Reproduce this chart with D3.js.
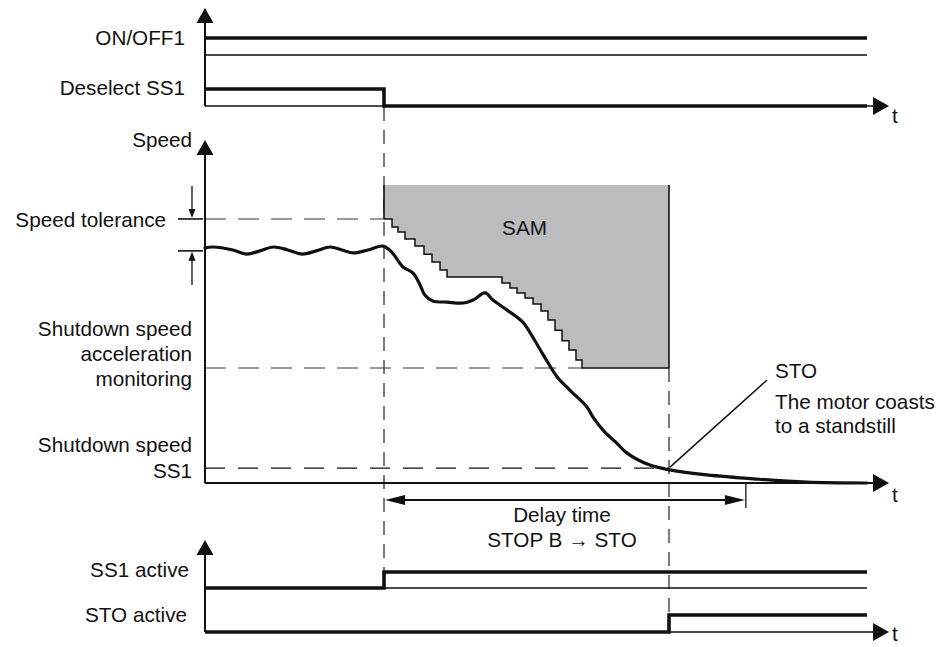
<!DOCTYPE html>
<html><head><meta charset="utf-8">
<script src="https://cdn.jsdelivr.net/npm/d3@7"></script>
<style>
body{margin:0;background:#fff}
svg{display:block;background:#fff}
text{font-family:"Liberation Sans",Arial,Helvetica,sans-serif;font-size:20.7px;fill:#111}
</style>
</head><body>
<svg id="c" width="941" height="647"></svg>
<script>
// ---------------- data ----------------
const timeDomain = [0, 100];
const speedDomain = [0, 100];

const tDeselect = 27.04;   // SS1 deselected
const tSTO = 70.09;        // STO triggered
const tDelayEnd = 81.7;    // end of delay time STOP B -> STO

// binary signals: [time, level]
const onOff1      = [[0, 1], [100, 1]];
const deselectSS1 = [[0, 1], [27.04, 0], [100, 0]];
const ss1Active   = [[0, 0], [27.04, 1], [100, 1]];
const stoActive   = [[0, 0], [70.09, 1], [100, 1]];

// speed thresholds
const samTop = 100;
const speedTolerance = 88.6;
const nominalSpeed = 77.9;
const shutdownAccel = 38.6;
const shutdownSS1 = 5.0;

// actual speed curve
const speedT = [0, 1.2, 4.2, 6.3, 8.3, 10.3, 12.5, 14.7, 16.8, 18.9, 20.7, 22.4, 24.6, 26.9,
  28.2, 29.9, 31.4, 32.5, 33.2, 34.4, 36.6, 39.0, 40.5, 42.3, 43.5, 45.6, 48.0, 49.5, 51.1,
  53.2, 55.1, 57.7, 58.6, 60.4, 62.2, 63.7, 67.2, 70.2, 75.8, 83.4, 90.9, 100];
const speedV = [78.9, 79.2, 78.2, 76.8, 77.9, 79.2, 78.2, 76.8, 77.9, 79.2, 78.2, 77.2, 78.2, 79.5,
  77.5, 72.5, 70.5, 66.4, 63.1, 61.1, 60.7, 60.4, 61.4, 63.8, 61.4, 58.1, 54.0, 49.0, 43.0,
  35.6, 31.2, 25.5, 22.1, 17.1, 13.4, 10.1, 6.0, 4.4, 2.7, 1.3, 0.3, 0];

// SAM limit staircase
const samStepT = [27.04, 28.25, 29.15, 30.21, 31.72, 33.08, 34.29, 35.50, 36.56, 44.86, 46.07,
  47.13, 48.34, 49.55, 50.76, 51.81, 52.87, 53.93, 54.98, 56.04, 56.95, 70.09];
const samStepV = [88.6, 85.9, 84.2, 81.9, 79.5, 76.8, 74.2, 71.5, 69.1, 67.1, 65.4,
  63.8, 62.1, 60.1, 57.7, 54.7, 51.3, 47.7, 44.6, 41.3, 38.6, 38.6];

// ---------------- drawing ----------------
const svg = d3.select("#c");
const x = d3.scaleLinear().domain(timeDomain).range([205, 867]);
const ySpeed = d3.scaleLinear().domain(speedDomain).range([483, 185]);

const rows = {
  onOff1:   d3.scaleLinear().domain([0, 1]).range([55, 38]),
  deselect: d3.scaleLinear().domain([0, 1]).range([106, 89]),
  ss1:      d3.scaleLinear().domain([0, 1]).range([588, 572]),
  sto:      d3.scaleLinear().domain([0, 1]).range([632, 615])
};

const axisX0 = x(0), axisX1 = x(100);
const DARK = "#111";
const GRAY = "#7a7a7a";

function hline(y, x0, x1, opts) {
  svg.append("line").attr("x1", x0).attr("x2", x1).attr("y1", y).attr("y2", y)
    .attr("stroke", opts.color || DARK).attr("stroke-width", opts.w || 1.5)
    .attr("stroke-dasharray", opts.dash || null);
}
function vline(xp, y0, y1, opts) {
  svg.append("line").attr("x1", xp).attr("x2", xp).attr("y1", y0).attr("y2", y1)
    .attr("stroke", opts.color || DARK).attr("stroke-width", opts.w || 1.5)
    .attr("stroke-dasharray", opts.dash || null);
}
function upArrow(xp, yTip) {
  svg.append("path").attr("d", `M${xp},${yTip} L${xp - 8.5},${yTip + 15} L${xp + 8.5},${yTip + 15} Z`).attr("fill", DARK);
}
function rightArrow(xTip, y) {
  svg.append("path").attr("d", `M${xTip},${y} L${xTip - 16},${y - 9} L${xTip - 16},${y + 9} Z`).attr("fill", DARK);
}

// ---- dashed reference lines (speed panel)
hline(ySpeed(speedTolerance), axisX0, x(tDeselect), {color: GRAY, w: 1.6, dash: "21,12"});
hline(ySpeed(shutdownAccel), axisX0, x(samStepT[samStepT.length - 2]), {color: GRAY, w: 1.6, dash: "21,12"});
hline(ySpeed(shutdownSS1), axisX0, x(tSTO), {color: DARK, w: 1.2, dash: "20,13"});

// ---- vertical event dashed lines
vline(x(tDeselect), rows.deselect(0) + 1, rows.ss1(1), {color: "#333", w: 1.3, dash: "14,9"});
vline(x(tSTO), ySpeed(shutdownAccel), rows.sto(1), {color: "#333", w: 1.3, dash: "14,9"});

// ---- SAM region
const samPts = samStepT.map((t, i) => [t, samStepV[i]]);
svg.append("path").datum(samPts)
  .attr("d", d3.area().x(d => x(d[0])).y0(ySpeed(samTop)).y1(d => ySpeed(d[1])).curve(d3.curveStepAfter))
  .attr("fill", "#babcbe");
svg.append("path").datum(samPts)
  .attr("d", d3.line().x(d => x(d[0])).y(d => ySpeed(d[1])).curve(d3.curveStepAfter))
  .attr("fill", "none").attr("stroke", DARK).attr("stroke-width", 1.5);
vline(x(tDeselect), ySpeed(samTop), ySpeed(speedTolerance), {w: 1.6});
vline(x(tSTO), ySpeed(samTop), ySpeed(shutdownAccel), {w: 1.6});
svg.append("text").attr("x", (x(tDeselect) + x(tSTO)) / 2 - 2).attr("y", 235)
  .attr("text-anchor", "middle").text("SAM");

// ---- axes
// top panel
vline(axisX0, rows.deselect(0), 22, {w: 2});
upArrow(axisX0, 8);
hline(rows.deselect(0), axisX0, 874, {w: 1.5});
rightArrow(889, rows.deselect(0));
svg.append("text").attr("x", 892).attr("y", 123).text("t");
// thin reference line for ON/OFF1
hline(rows.onOff1(0), axisX0, axisX1, {w: 1.3});

// speed panel
vline(axisX0, ySpeed(0), 154, {w: 2});
upArrow(axisX0, 140);
hline(ySpeed(0), axisX0, 874, {w: 2});
rightArrow(889, ySpeed(0));
svg.append("text").attr("x", 892).attr("y", 502).text("t");

// bottom panel
vline(axisX0, rows.sto(0), 554, {w: 2});
upArrow(axisX0, 540);
hline(rows.sto(0), axisX0, 874, {w: 1.5});
rightArrow(889, rows.sto(0));
svg.append("text").attr("x", 892).attr("y", 641).text("t");
hline(rows.ss1(0), x(tDeselect), axisX1, {w: 1.3});

// ---- signals
function signal(data, yS) {
  svg.append("path").datum(data)
    .attr("d", d3.line().x(d => x(d[0])).y(d => yS(d[1])).curve(d3.curveStepAfter))
    .attr("fill", "none").attr("stroke", DARK).attr("stroke-width", 3.6)
    .attr("stroke-linejoin", "miter");
}
signal(onOff1, rows.onOff1);
signal(deselectSS1, rows.deselect);
signal(ss1Active, rows.ss1);
signal(stoActive, rows.sto);

// ---- speed curve
const speedPts = speedT.map((t, i) => [t, speedV[i]]);
svg.append("path").datum(speedPts)
  .attr("d", d3.line().x(d => x(d[0])).y(d => ySpeed(d[1])).curve(d3.curveCatmullRom))
  .attr("fill", "none").attr("stroke", DARK).attr("stroke-width", 3.2)
  .attr("stroke-linecap", "round");

// ---- speed tolerance marker
const yTol = ySpeed(speedTolerance), yNom = ySpeed(nominalSpeed);
hline(yTol, 178, 203, {w: 1.6});
hline(yNom, 178, 203, {w: 1.6});
vline(192, 186, yTol - 8, {w: 1.3});
svg.append("path").attr("d", `M192,${yTol - 1} L188.5,${yTol - 10} L195.5,${yTol - 10} Z`).attr("fill", DARK);
vline(192, 285, yNom + 8, {w: 1.3});
svg.append("path").attr("d", `M192,${yNom + 1} L188.5,${yNom + 10} L195.5,${yNom + 10} Z`).attr("fill", DARK);

// ---- delay time arrow
const yDelay = 500;
vline(x(tDelayEnd), ySpeed(0), 508, {w: 1.3});
hline(yDelay, x(tDeselect) + 12, x(tDelayEnd) - 12, {w: 2});
svg.append("path").attr("d", `M${x(tDeselect) + 1},${yDelay} L${x(tDeselect) + 21},${yDelay - 5} L${x(tDeselect) + 21},${yDelay + 5} Z`).attr("fill", DARK);
svg.append("path").attr("d", `M${x(tDelayEnd) - 1},${yDelay} L${x(tDelayEnd) - 21},${yDelay - 5} L${x(tDelayEnd) - 21},${yDelay + 5} Z`).attr("fill", DARK);
svg.append("text").attr("x", 562).attr("y", 522).attr("text-anchor", "middle").text("Delay time");
svg.append("text").attr("x", 562).attr("y", 547).attr("text-anchor", "middle").text("STOP B \u2192 STO");

// ---- STO annotation
svg.append("line").attr("x1", x(tSTO) + 1).attr("y1", ySpeed(shutdownSS1) - 1)
  .attr("x2", 767).attr("y2", 380).attr("stroke", DARK).attr("stroke-width", 1.5);
svg.append("text").attr("x", 775).attr("y", 378).text("STO");
svg.append("text").attr("x", 775).attr("y", 409).text("The motor coasts");
svg.append("text").attr("x", 775).attr("y", 433).text("to a standstill");

// ---- left labels
const labels = [
  ["ON/OFF1", 185, 45], ["Deselect SS1", 185, 95], ["Speed", 192, 147],
  ["Speed tolerance", 166, 227],
  ["Shutdown speed", 192, 336], ["acceleration", 192, 361], ["monitoring", 192, 386],
  ["Shutdown speed", 192, 452], ["SS1", 192, 478],
  ["SS1 active", 189, 577], ["STO active", 187, 622]
];
svg.selectAll("text.lbl").data(labels).enter().append("text").attr("class", "lbl")
  .attr("x", d => d[1]).attr("y", d => d[2]).attr("text-anchor", "end").text(d => d[0]);
</script>
</body></html>
